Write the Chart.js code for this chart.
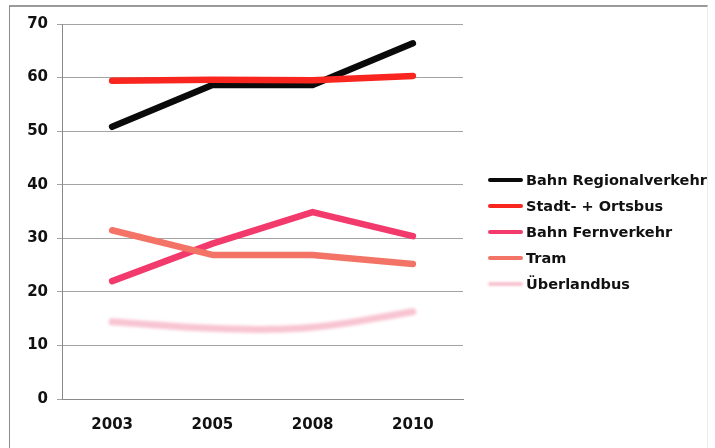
<!DOCTYPE html>
<html>
<head>
<meta charset="utf-8">
<script src="https://cdn.jsdelivr.net/npm/chart.js@4"></script>
<style>
  html, body { margin: 0; padding: 0; background: #fff; }
  #wrap { position: relative; width: 715px; height: 448px; overflow: hidden; }
  #rahmen {
    position: absolute; left: 9px; top: 5px; width: 697px; height: 460px;
    border-left: 1px solid #8c8c8c; border-top: 2px solid #9a9a9a;
    border-right: 1px solid #ececec; pointer-events: none;
  }
  #legende { position: absolute; left: 488px; top: 167px; font: bold 14.5px "DejaVu Sans", sans-serif; color: #111; }
  .zeile { height: 26px; display: flex; align-items: center; white-space: nowrap; }
  .strich { width: 35px; height: 4px; margin-right: 3px; border-radius: 2px; }
</style>
</head>
<body>
<div id="wrap">
  <canvas id="myChart" width="715" height="448"></canvas>
  <div id="rahmen"></div>
  <div id="legende"></div>
</div>
<script>
const jahre = ['2003', '2005', '2008', '2010'];
const regionalverkehr = [50.8, 58.6, 58.6, 66.4];
const ortsbus = [59.4, 59.6, 59.5, 60.3];
const fernverkehr = [22.0, 29.0, 34.9, 30.4];
const tram = [31.5, 26.9, 26.9, 25.2];
const ueberlandbus = [14.4, 13.2, 13.4, 16.3];
const yTicks = [0, 10, 20, 30, 40, 50, 60, 70];

const serien = [
  { label: 'Bahn Regionalverkehr', data: regionalverkehr, farbe: '#0a0a0a' },
  { label: 'Stadt- + Ortsbus', data: ortsbus, farbe: '#f8261e' },
  { label: 'Bahn Fernverkehr', data: fernverkehr, farbe: '#f23a6c' },
  { label: 'Tram', data: tram, farbe: '#f37466' },
  { label: 'Überlandbus', data: ueberlandbus, farbe: '#f8c4d2' }
];

// Überlandbus wird weich gezeichnet
const weichPlugin = {
  id: 'weich',
  beforeDatasetDraw(chart, args) {
    if (args.index === 4) {
      chart.ctx.save();
      chart.ctx.filter = 'blur(1.5px)';
    }
  },
  afterDatasetDraw(chart, args) {
    if (args.index === 4) chart.ctx.restore();
  }
};

const schrift = { family: '"DejaVu Sans", sans-serif', size: 15, weight: 'bold' };

new Chart(document.getElementById('myChart').getContext('2d'), {
  type: 'line',
  data: {
    labels: jahre,
    datasets: serien.map((s, i) => ({
      label: s.label,
      data: s.data,
      borderColor: s.farbe,
      backgroundColor: s.farbe,
      borderWidth: i === 4 ? 7 : 6.5,
      borderCapStyle: 'round',
      borderJoinStyle: 'round',
      pointRadius: 0,
      tension: i === 4 ? 0.4 : 0,
      order: 4 - i
    }))
  },
  options: {
    responsive: false,
    animation: false,
    layout: { padding: { left: 0, top: 24, right: 252, bottom: 0 } },
    plugins: { legend: { display: false }, tooltip: { enabled: false } },
    scales: {
      x: {
        offset: true,
        grid: { display: false, drawTicks: false },
        border: { color: '#8a8a8a', width: 1 },
        ticks: { font: schrift, color: '#111', padding: 17 },
        afterFit: scale => { scale.height = 49; }
      },
      y: {
        min: 0,
        max: 70,
        afterBuildTicks: scale => { scale.ticks = yTicks.map(v => ({ value: v })); },
        grid: { color: '#a3a3a3', lineWidth: 1, tickLength: 5 },
        border: { color: '#8a8a8a', width: 1 },
        ticks: { font: schrift, color: '#111', padding: 9 },
        afterFit: scale => { scale.width = 62; }
      }
    }
  },
  plugins: [weichPlugin]
});

// Legende
const legende = document.getElementById('legende');
serien.forEach((s, i) => {
  const zeile = document.createElement('div');
  zeile.className = 'zeile';
  const strich = document.createElement('span');
  strich.className = 'strich';
  strich.style.background = s.farbe;
  if (i === 4) strich.style.filter = 'blur(1px)';
  const text = document.createElement('span');
  text.textContent = s.label;
  zeile.appendChild(strich);
  zeile.appendChild(text);
  legende.appendChild(zeile);
});
</script>
</body>
</html>
